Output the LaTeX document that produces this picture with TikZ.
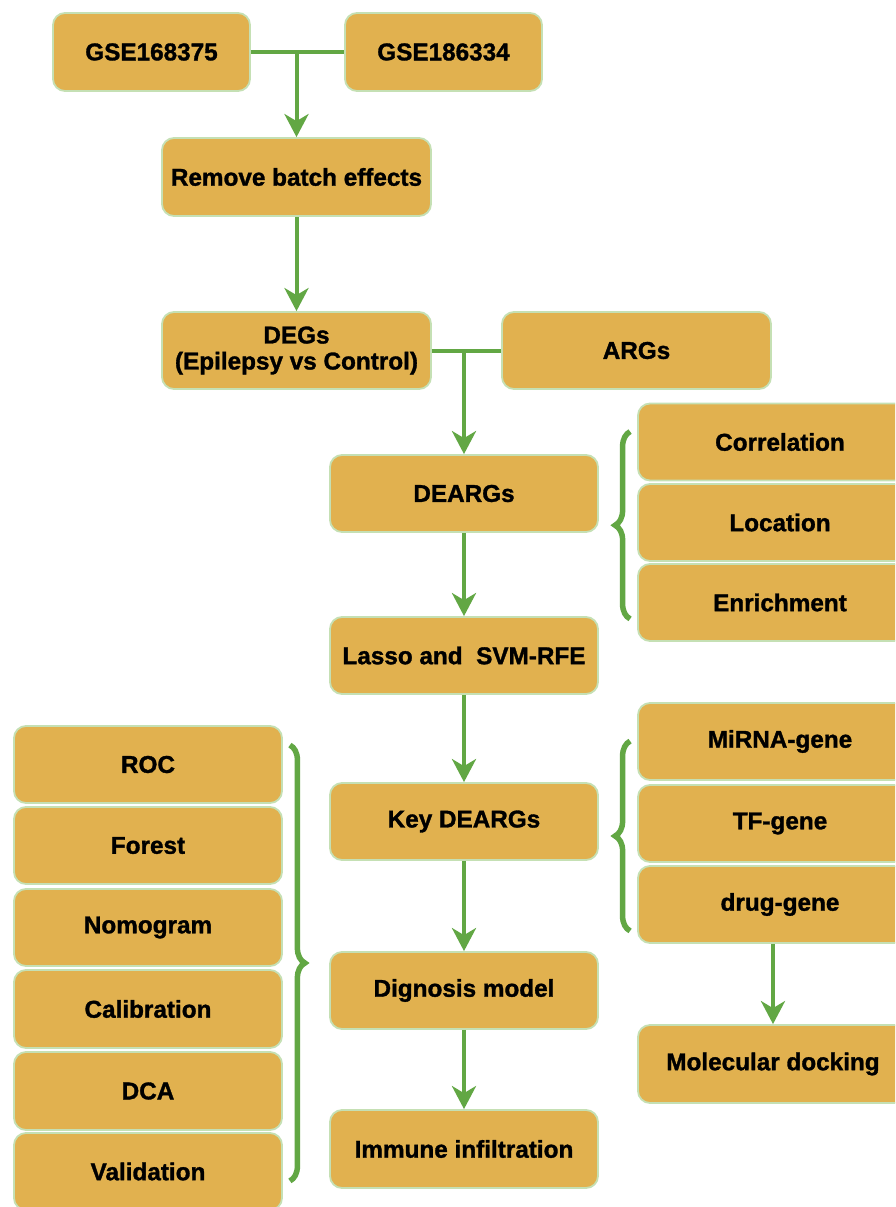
\documentclass[tikz,border=0pt]{standalone}
\usepackage{fontspec}
\setmainfont{Liberation Sans}[BoldFeatures={FakeBold=1.3}]
\usetikzlibrary{arrows.meta,decorations.pathreplacing,calc}
\definecolor{boxfill}{HTML}{E1B14F}
\definecolor{boxline}{HTML}{C5E0B4}
\definecolor{lgreen}{HTML}{62A744}
\begin{document}
\begin{tikzpicture}[x=1pt,y=-1pt,
  box/.style={draw=boxline, line width=1.8pt, fill=boxfill, rounded corners=12pt,
    minimum height=77pt, inner sep=0pt, align=center,
    font=\bfseries\fontsize{24.3}{26}\selectfont},
  cbox/.style={box, minimum width=268pt},
  rbox/.style={box, minimum width=284pt},
  conn/.style={draw=lgreen, line width=4pt},
  arr/.style={conn, -{Stealth[length=23pt,width=24pt,inset=7pt]}},
  brc/.style={draw=lgreen, line width=5.5pt, decorate,
    decoration={brace, amplitude=15pt}}]
\clip (0,0) rectangle (895,1207);
\fill[white] (0,0) rectangle (895,1207);
% top
\node[box, minimum width=197pt, minimum height=78pt] (g1) at (151.5,52) {GSE168375};
\node[box, minimum width=197pt, minimum height=78pt] (g2) at (443.5,52) {GSE186334};
\node[cbox, minimum width=269pt, minimum height=78pt] (rbe) at (296.5,177) {Remove batch effects};
\node[cbox, minimum width=269pt] (degs) at (296.5,350.5) {DEGs\\(Epilepsy vs Control)};
\node[cbox, minimum width=269pt] (args) at (636.5,350.5) {ARGs};
% centre column
\node[cbox] (dearg) at (464,493.5) {DEARGs};
\node[cbox] (lasso) at (464,655.5) {Lasso and\ \ SVM-RFE};
\node[cbox] (key) at (464,821.5) {Key DEARGs};
\node[cbox] (dig) at (464,990.5) {Dignosis model};
\node[cbox, minimum height=78pt] (imm) at (464,1149) {Immune infiltration};
% right column
\node[rbox] (corr) at (780,442) {Correlation};
\node[rbox] (loc) at (780,522.5) {Location};
\node[rbox] (enr) at (780,602.5) {Enrichment};
\node[rbox] (mirna) at (780,741.5) {MiRNA-gene};
\node[rbox] (tf) at (780,823.5) {TF-gene};
\node[rbox] (drug) at (780,904.5) {drug-gene};
\node[box, minimum width=270pt, minimum height=78pt] (mol) at (773,1064) {Molecular docking};
% left column
\node[cbox] (roc) at (148,764.5) {ROC};
\node[cbox] (forest) at (148,845.5) {Forest};
\node[cbox] (nomo) at (148,927.5) {Nomogram};
\node[cbox, minimum height=78pt] (cal) at (148,1009) {Calibration};
\node[cbox, minimum height=78pt] (dca) at (148,1091) {DCA};
\node[cbox] (val) at (148,1171.5) {Validation};
% connectors
\draw[conn] (g1.east) -- (g2.west);
\draw[arr] (rbe.north |- g1.east) -- (rbe.north);
\draw[arr] (rbe) -- (degs);
\draw[conn] (degs.east) -- (args.west);
\draw[arr] (dearg.north |- degs.east) -- (dearg.north);
\draw[arr] (dearg) -- (lasso);
\draw[arr] (lasso) -- (key);
\draw[arr] (key) -- (dig);
\draw[arr] (dig) -- (imm);
\draw[arr] (mol.north |- drug.south) -- (mol.north);
% braces
\draw[brc] ($(enr.south west)+(-7,-23)$) -- ($(corr.north west)+(-7,29)$);
\draw[brc] ($(drug.south west)+(-7,-13)$) -- ($(mirna.north west)+(-7,39)$);
\draw[brc] ($(roc.north east)+(7,20)$) -- ($(val.south east)+(7,-30)$);
\end{tikzpicture}
\end{document}
